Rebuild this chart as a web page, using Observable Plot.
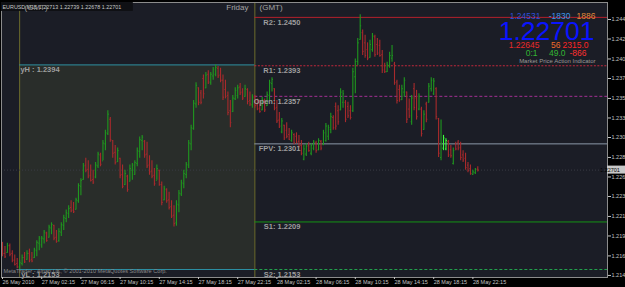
<!DOCTYPE html>
<html><head><meta charset="utf-8">
<script src="https://cdn.jsdelivr.net/npm/d3@7"></script>
<script src="https://cdn.jsdelivr.net/npm/@observablehq/plot@0.6"></script>
<style>
html,body{margin:0;padding:0;background:#000;overflow:hidden}
#chart svg{display:block}
</style></head><body><div id="chart"></div>
<script>
// EURUSD M15 bars, 26 May 2010 22:15 -> 28 May 2010 22:45 (GMT)
const opens = [
1.2182,1.2172,1.2173,1.2181,1.2172,1.2164,1.2160,1.2156,1.2160,1.2167,
1.2165,1.2172,1.2165,1.2167,1.2175,1.2184,1.2182,1.2189,1.2196,1.2191,
1.2202,1.2205,1.2191,1.2187,1.2197,1.2205,1.2213,1.2219,1.2226,1.2223,
1.2224,1.2234,1.2251,1.2259,1.2276,1.2271,1.2264,1.2259,1.2262,1.2275,
1.2288,1.2281,1.2301,1.2313,1.2330,1.2305,1.2291,1.2280,1.2284,1.2265,
1.2253,1.2263,1.2257,1.2270,1.2265,1.2278,1.2292,1.2305,1.2304,1.2289,
1.2276,1.2269,1.2264,1.2258,1.2270,1.2253,1.2235,1.2247,1.2235,1.2227,
1.2217,1.2208,1.2229,1.2242,1.2254,1.2265,1.2276,1.2301,1.2319,1.2348,
1.2367,1.2361,1.2378,1.2367,1.2383,1.2373,1.2381,1.2383,1.2390,1.2382,
1.2376,1.2365,1.2358,1.2340,1.2339,1.2354,1.2358,1.2368,1.2362,1.2357,
1.2365,1.2352,1.2347,1.2357,1.2347,1.2343,1.2341,1.2352,1.2346,1.2358,
1.2372,1.2366,1.2344,1.2329,1.2315,1.2323,1.2317,1.2312,1.2305,1.2312,
1.2310,1.2304,1.2299,1.2283,1.2289,1.2299,1.2290,1.2296,1.2302,1.2294,
1.2304,1.2300,1.2305,1.2310,1.2318,1.2332,1.2345,1.2340,1.2341,1.2350,
1.2350,1.2345,1.2340,1.2340,1.2380,1.2398,1.2424,1.2432,1.2420,1.2412,
1.2403,1.2412,1.2427,1.2418,1.2417,1.2406,1.2393,1.2386,1.2393,1.2402,
1.2395,1.2374,1.2365,1.2353,1.2362,1.2362,1.2342,1.2327,1.2366,1.2355,
1.2342,1.2342,1.2318,1.2348,1.2350,1.2366,1.2360,1.2366,1.2331,1.2285,
1.2296,1.2295,1.2304,1.2294,1.2278,1.2300,1.2303,1.2297,1.2288,1.2284,
1.2276,1.2272,1.2265,1.2267,1.22713];
const highs = [
1.2185,1.2180,1.2184,1.2183,1.2175,1.2170,1.2166,1.2164,1.2170,1.2173,
1.2175,1.2177,1.2173,1.2178,1.2187,1.2192,1.2192,1.2199,1.2197,1.2205,
1.2208,1.2205,1.2199,1.2201,1.2208,1.2217,1.2223,1.2228,1.2234,1.2232,
1.2237,1.2254,1.2260,1.2278,1.2284,1.2281,1.2276,1.2270,1.2279,1.2291,
1.2290,1.2305,1.2317,1.2340,1.2332,1.2305,1.2299,1.2296,1.2284,1.2276,
1.2270,1.2264,1.2276,1.2278,1.2281,1.2296,1.2309,1.2311,1.2305,1.2303,
1.2287,1.2281,1.2272,1.2276,1.2270,1.2256,1.2251,1.2248,1.2244,1.2234,
1.2228,1.2234,1.2246,1.2258,1.2270,1.2279,1.2305,1.2323,1.2352,1.2373,
1.2367,1.2364,1.2382,1.2385,1.2387,1.2385,1.2391,1.2394,1.2392,1.2390,
1.2382,1.2376,1.2362,1.2352,1.2358,1.2367,1.2370,1.2372,1.2366,1.2370,
1.2366,1.2362,1.2359,1.2358,1.2354,1.2352,1.2356,1.2354,1.2362,1.2376,
1.2379,1.2366,1.2352,1.2338,1.2331,1.2323,1.2326,1.2319,1.2317,1.2313,
1.2314,1.2311,1.2305,1.2299,1.2301,1.2303,1.2301,1.2305,1.2304,1.2307,
1.2305,1.2317,1.2325,1.2323,1.2337,1.2334,1.2349,1.2346,1.2366,1.2364,
1.2352,1.2350,1.2346,1.2390,1.2401,1.2425,1.2453,1.2435,1.2429,1.2420,
1.2423,1.2431,1.2429,1.2425,1.2423,1.2411,1.2396,1.2397,1.2409,1.2417,
1.2397,1.2376,1.2370,1.2370,1.2379,1.2362,1.2354,1.2358,1.2372,1.2364,
1.2360,1.2344,1.2340,1.2350,1.2372,1.2379,1.2378,1.2367,1.2331,1.2329,
1.2311,1.2307,1.2305,1.2299,1.2296,1.2303,1.2305,1.2303,1.2293,1.2290,
1.2279,1.2276,1.2270,1.2272,1.22739];
const lows = [
1.2168,1.2166,1.2172,1.2168,1.2161,1.2157,1.2154,1.2153,1.2157,1.2160,
1.2164,1.2161,1.2161,1.2166,1.2168,1.2175,1.2178,1.2183,1.2185,1.2190,
1.2194,1.2187,1.2184,1.2185,1.2192,1.2199,1.2208,1.2213,1.2220,1.2219,
1.2223,1.2231,1.2240,1.2258,1.2267,1.2260,1.2256,1.2253,1.2260,1.2272,
1.2274,1.2281,1.2293,1.2311,1.2303,1.2284,1.2276,1.2279,1.2260,1.2248,
1.2252,1.2244,1.2256,1.2258,1.2264,1.2274,1.2284,1.2293,1.2284,1.2272,
1.2264,1.2260,1.2251,1.2258,1.2251,1.2228,1.2234,1.2231,1.2223,1.2213,
1.2203,1.2204,1.2220,1.2239,1.2248,1.2260,1.2272,1.2293,1.2317,1.2343,
1.2346,1.2347,1.2354,1.2366,1.2371,1.2370,1.2376,1.2380,1.2378,1.2373,
1.2352,1.2354,1.2334,1.2320,1.2338,1.2352,1.2354,1.2358,1.2352,1.2356,
1.2347,1.2345,1.2343,1.2343,1.2340,1.2337,1.2340,1.2338,1.2345,1.2352,
1.2362,1.2340,1.2325,1.2319,1.2313,1.2305,1.2307,1.2305,1.2303,1.2300,
1.2301,1.2296,1.2287,1.2281,1.2286,1.2291,1.2287,1.2293,1.2290,1.2293,
1.2293,1.2299,1.2303,1.2305,1.2313,1.2317,1.2317,1.2323,1.2340,1.2343,
1.2326,1.2331,1.2329,1.2338,1.2360,1.2393,1.2423,1.2405,1.2402,1.2399,
1.2402,1.2409,1.2403,1.2405,1.2403,1.2384,1.2384,1.2385,1.2390,1.2397,
1.2370,1.2348,1.2350,1.2352,1.2356,1.2325,1.2331,1.2323,1.2340,1.2329,
1.2340,1.2309,1.2317,1.2326,1.2349,1.2362,1.2358,1.2329,1.2285,1.2281,
1.2293,1.2293,1.2285,1.2284,1.2276,1.2293,1.2293,1.2281,1.2279,1.2270,
1.2267,1.2264,1.2264,1.2265,1.22678];
const closes = [
1.2172,1.2168,1.2181,1.2171,1.2164,1.2159,1.2156,1.2161,1.2167,1.2162,
1.2172,1.2164,1.2163,1.2176,1.2185,1.2190,1.2190,1.2197,1.2187,1.2203,
1.2206,1.2190,1.2186,1.2198,1.2206,1.2214,1.2220,1.2225,1.2222,1.2221,
1.2235,1.2252,1.2258,1.2275,1.2270,1.2263,1.2258,1.2256,1.2276,1.2289,
1.2277,1.2302,1.2314,1.2336,1.2306,1.2290,1.2279,1.2293,1.2264,1.2251,
1.2266,1.2247,1.2272,1.2276,1.2279,1.2293,1.2306,1.2309,1.2288,1.2275,
1.2268,1.2263,1.2254,1.2272,1.2253,1.2232,1.2248,1.2234,1.2226,1.2216,
1.2207,1.2230,1.2243,1.2255,1.2266,1.2277,1.2302,1.2320,1.2349,1.2370,
1.2350,1.2350,1.2360,1.2382,1.2374,1.2383,1.2389,1.2391,1.2381,1.2376,
1.2356,1.2357,1.2338,1.2326,1.2355,1.2364,1.2367,1.2361,1.2355,1.2366,
1.2351,1.2348,1.2356,1.2346,1.2342,1.2339,1.2353,1.2341,1.2359,1.2373,
1.2377,1.2343,1.2328,1.2322,1.2328,1.2308,1.2310,1.2306,1.2314,1.2302,
1.2303,1.2298,1.2290,1.2295,1.2298,1.2293,1.2299,1.2303,1.2293,1.2305,
1.2296,1.2314,1.2322,1.2320,1.2333,1.2320,1.2322,1.2327,1.2362,1.2360,
1.2330,1.2334,1.2332,1.2386,1.2398,1.2420,1.2440,1.2410,1.2405,1.2402,
1.2418,1.2428,1.2406,1.2408,1.2405,1.2388,1.2386,1.2394,1.2405,1.2405,
1.2373,1.2352,1.2353,1.2366,1.2376,1.2330,1.2334,1.2355,1.2344,1.2333,
1.2357,1.2313,1.2336,1.2330,1.2369,1.2376,1.2375,1.2333,1.2290,1.2302,
1.2308,1.2305,1.2288,1.2287,1.2293,1.2295,1.2296,1.2285,1.2282,1.2273,
1.2270,1.2266,1.2268,1.2271,1.22701];
const highlightBars = [180, 181];           // bars painted bright by the indicator
const dayStartBars = [7, 103];             // first bar of 27 May and of 28 May
const xTickLabels = ["26 May 2010","27 May 02:15","27 May 06:15","27 May 10:15","27 May 14:15",
  "27 May 18:15","27 May 22:15","28 May 02:15","28 May 06:15","28 May 10:15","28 May 14:15",
  "28 May 18:15","28 May 22:15"];
const xTickBars = [0,16,32,48,64,80,96,112,128,144,160,176,192];
const priceTicks = [1.24475,1.24245,1.24010,1.23780,1.23545,1.23315,1.23085,1.22850,1.22620,
  1.22390,1.22155,1.21925,1.21690,1.21460];
const levelNames = ["R2","R1","Open","FPV","S1","S2"];
const levelValues = [1.2450,1.2393,1.2357,1.2301,1.2209,1.2153];
const yesterdayNames = ["yH","yL"];
const yesterdayValues = [1.2394,1.2153];
const lastPrice = 1.22701;
const headerText = "EURUSD,M15 1.22713 1.22739 1.22678 1.22701";
const infoRow1 = ["1.24531","-1830","1886"];
const infoRow3 = ["1.22645","56","2315.0"];
const infoRow4 = ["0:1","49.0","-866"];
const infoTitle = "Market Price Action Indicator";
const copyright = "MetaTrader - Alpari UK, © 2001-2010 MetaQuotes Software Corp.";

// styles
const levelStroke = ["#b3202c","#c4283c","#a33093","#8c98a8","#159415","#22a04c"];
const levelDash = [null,"2,1.5","3,2",null,null,"3,2"];
const font = "Liberation Sans, Arial, sans-serif";

const bars = opens.map((o, i) => ({i, o, h: highs[i], l: lows[i], c: closes[i]}));
const barColor = d => highlightBars.includes(d.i) ? "#3cff3c" : (d.c >= d.o ? "#1f981f" : "#a82a2c");
const levels = levelNames.map((name, k) => ({name, value: levelValues[k], stroke: levelStroke[k], dash: levelDash[k]}));
const yLevels = yesterdayNames.map((name, k) => ({name, value: yesterdayValues[k]}));
const xMin = -0.41, xMax = 246.94;
const labelBar = 121.6, yLabelBar = 23.3;

function txt(str, X, Y, fill, size, anchor = "start", weight = "normal") {
  return Plot.text([str], {text: d => d, frameAnchor: "top-left", dx: X - 1, dy: Y - 2,
    fill, fontSize: size, textAnchor: anchor, lineAnchor: "middle", fontWeight: weight});
}

const marks = [
  Plot.frame({fill: "#1b1d26"}),
  Plot.rect([0], {x1: () => dayStartBars[0], x2: () => dayStartBars[1],
    y1: () => yesterdayValues[1], y2: () => yesterdayValues[0], fill: "#292d2a"}),
  Plot.ruleX(dayStartBars, {stroke: "#6d6c2c", strokeWidth: 1}),
  Plot.ruleY(yLevels, {y: "value", x1: () => dayStartBars[0], x2: () => dayStartBars[1], stroke: "#2b8ea2"}),
  Plot.ruleY([lastPrice], {stroke: "#3a3b44", strokeDasharray: "1,2"}),
  ...levels.map(L => Plot.ruleY([L.value], {x1: () => dayStartBars[1], x2: () => xMax,
    stroke: L.stroke, strokeDasharray: L.dash || undefined, strokeWidth: 1})),
  Plot.ruleX(bars, {x: "i", y1: "l", y2: "h", stroke: barColor, strokeWidth: 1.1}),
  Plot.link(bars, {x1: d => d.i - 0.4, x2: "i", y1: "o", y2: "o", stroke: barColor, strokeWidth: 1}),
  Plot.link(bars, {x1: "i", x2: d => d.i + 0.4, y1: "c", y2: "c", stroke: barColor, strokeWidth: 1}),
  Plot.text(levels, {x: () => labelBar, y: "value", text: d => `${d.name}: ${d.value.toFixed(4)}`,
    dy: 5, textAnchor: "end", fontSize: 7.5, fontWeight: "bold", fill: "#9e9e9e"}),
  Plot.text(yLevels, {x: () => yLabelBar, y: "value", text: d => `${d.name} : ${d.value.toFixed(4)}`,
    dy: 5, textAnchor: "end", fontSize: 7.5, fontWeight: "bold", fill: "#9e9e9e"}),
  Plot.frame({stroke: "#8c8c8c"}),
  Plot.axisY({anchor: "right", ticks: priceTicks, tickFormat: d => d.toFixed(5), tickSize: 3,
    tickPadding: 1, fontSize: 5.5, color: "#c4c4c4", label: null}),
  Plot.axisX({anchor: "bottom", ticks: xTickBars, tickFormat: d => xTickLabels[xTickBars.indexOf(d)],
    tickSize: 2, tickPadding: 1, fontSize: 5.5, textAnchor: "start", color: "#c4c4c4", label: null}),
  // top-left header
  Plot.rect([0], {frameAnchor: "top-left", x1: () => xMin, x2: () => 53.4,
    y1: () => 1.24675, y2: () => 1.24570, fill: "#0f1014"}),
  txt(headerText, 2, 7, "#c8c8c8", 5.4),
  txt("(GMT)", 24, 7, "#9a9a9a", 8),
  txt("Friday", 248, 7, "#a4a4a4", 8, "end"),
  txt("(GMT)", 259, 7, "#a4a4a4", 8),
  // indicator panel
  txt(infoRow1[0], 540, 15.5, "#2f4fd6", 8.5, "end"),
  txt(infoRow1[1], 570, 15.5, "#3d94e6", 8.5, "end"),
  txt(infoRow1[2], 595, 15.5, "#e0873a", 8.5, "end"),
  txt(String(lastPrice.toFixed(5)), 594, 31, "#0a14ff", 26.5, "end"),
  txt(infoRow3[0], 539, 44.5, "#e82a2a", 8.5, "end"),
  txt(infoRow3[1], 560, 44.5, "#f06a2a", 8.5, "end"),
  txt(infoRow3[2], 588, 44.5, "#ff2424", 8.5, "end"),
  txt(infoRow4[0], 537, 52.5, "#33b533", 8.5, "end"),
  txt(infoRow4[1], 565, 52.5, "#33b533", 8.5, "end"),
  txt(infoRow4[2], 586, 52.5, "#ff3030", 8.5, "end"),
  txt(infoTitle, 595, 60.5, "#9a9a9a", 6, "end"),
  txt(copyright, 3, 270.5, "#8a8a8a", 5.6)
];

const plot = Plot.plot({
  width: 625, height: 287,
  marginLeft: 1, marginRight: 18, marginTop: 2, marginBottom: 10,
  style: {background: "#000", fontFamily: font, overflow: "hidden"},
  x: {type: "linear", domain: [xMin, xMax]},
  y: {type: "linear", domain: [1.214358, 1.246753]},
  marks
});

// current price label on the price axis
const yPx = plot.scale("y").apply(lastPrice);
const sel = d3.select(plot);
sel.append("rect").attr("x", 607).attr("y", yPx - 4).attr("width", 20).attr("height", 8).attr("fill", "#c8c8c8");
sel.append("text").attr("x", 610).attr("y", yPx + 2).attr("font-size", 5.5).attr("fill", "#000")
  .attr("font-family", font).text(lastPrice.toFixed(5));

document.getElementById("chart").appendChild(plot);
</script>
</body></html>
